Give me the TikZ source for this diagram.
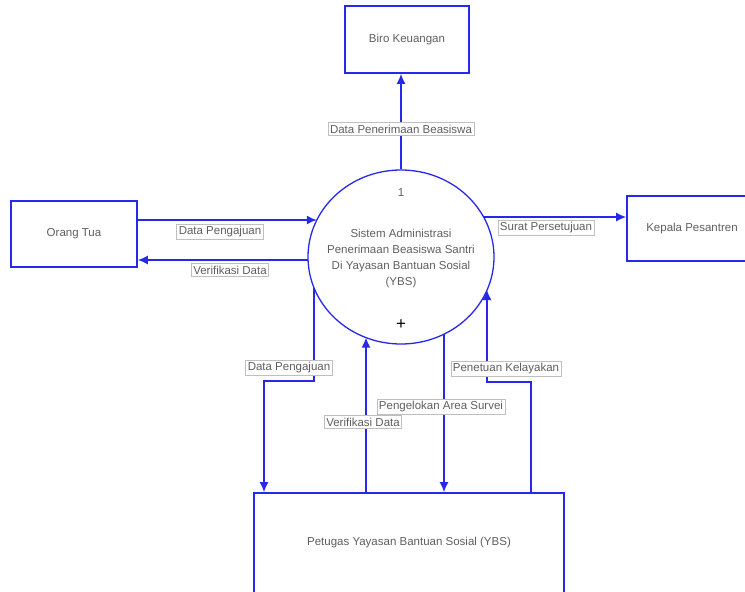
\documentclass[tikz,border=0pt]{standalone}
\usepackage{fontspec}
\setmainfont{Liberation Sans}
\usetikzlibrary{arrows.meta,shapes.geometric}
\definecolor{lineblue}{RGB}{40,40,235}
\definecolor{txt}{RGB}{95,95,95}
\tikzset{
  ent/.style={draw=lineblue,line width=1.6pt,fill=white,text=txt,font=\fontsize{11.5}{13}\selectfont,inner sep=0pt},
  flow/.style={draw=lineblue,line width=1.5pt,-{Latex[length=10pt,width=9pt]}},
  lbl/.style={draw=black!25,line width=0.6pt,fill=white,text=txt,font=\fontsize{11.5}{13}\selectfont,inner xsep=2pt,inner ysep=2pt},
}
\begin{document}
\begin{tikzpicture}[x=1pt,y=-1pt]
\useasboundingbox (0,0) rectangle (745,592);
% entities
\node[ent,minimum width=124pt,minimum height=67pt] (bk) at (407,39.5) {Biro Keuangan};
\node[ent,minimum width=126pt,minimum height=66pt] (ot) at (74,234) {Orang Tua};
\node[ent,minimum width=130pt,minimum height=65pt] (kp) at (692,228.5) {Kepala Pesantren};
\node[ent,minimum width=310pt,minimum height=104pt] (pb) at (409,545) {};
\node[text=txt,font=\fontsize{11.5}{13}\selectfont] (pbt) at (409,543) {Petugas Yayasan Bantuan Sosial (YBS)};
% process
\node[draw=lineblue,line width=1.3pt,ellipse,minimum width=186pt,minimum height=174pt,inner sep=0pt] (c) at (401,257) {};
\node[text=txt,font=\fontsize{11.5}{13}\selectfont] (cn) at (401,193) {1};
\node[text=txt,font=\fontsize{11.5}{16}\selectfont,align=center] (ct) at (401,259) {Sistem Administrasi\\Penerimaan Beasiswa Santri\\Di Yayasan Bantuan Sosial\\(YBS)};
\node[text=black,font=\fontsize{17}{17}\selectfont] (cp) at (401,325) {+};
% boundary points on process
\coordinate (cL1) at (316.8,220);
\coordinate (cL2) at (308,260);
\coordinate (cR1) at (483.6,217);
\coordinate (cB1) at (314,287.7);
\coordinate (cB2) at (366,337.6);
\coordinate (cB3) at (444,334);
\coordinate (cB4) at (487,290);
\coordinate (k1) at (314,381);
\coordinate (k2) at (264,381);
\coordinate (k3) at (531,382);
\coordinate (k4) at (487,382);
% flows
\draw[flow] (c.north) -- (c.north |- bk.south);
\draw[flow] (ot.east |- cL1) -- (cL1);
\draw[flow] (cL2) -- (ot.east |- cL2);
\draw[flow] (cR1) -- (kp.west |- cR1);
\draw[flow] (cB1) -- (k1) -- (k2) -- (k2 |- pb.north);
\draw[flow] (cB2 |- pb.north) -- (cB2);
\draw[flow] (cB3) -- (cB3 |- pb.north);
\draw[flow] (k3 |- pb.north) -- (k3) -- (k4) -- (cB4);
% labels
\node[lbl] (l1) at (401,129) {Data Penerimaan Beasiswa};
\node[lbl] (l2) at (220,232) {Data Pengajuan};
\node[lbl] (l3) at (230,270) {Verifikasi Data};
\node[lbl] (l4) at (546,228) {Surat Persetujuan};
\node[lbl] (l5) at (289,368) {Data Pengajuan};
\node[lbl] (l6) at (363,422) {Verifikasi Data};
\node[lbl] (l7) at (441,407) {Pengelokan Area Survei};
\node[lbl] (l8) at (506,369) {Penetuan Kelayakan};
\end{tikzpicture}
\end{document}
